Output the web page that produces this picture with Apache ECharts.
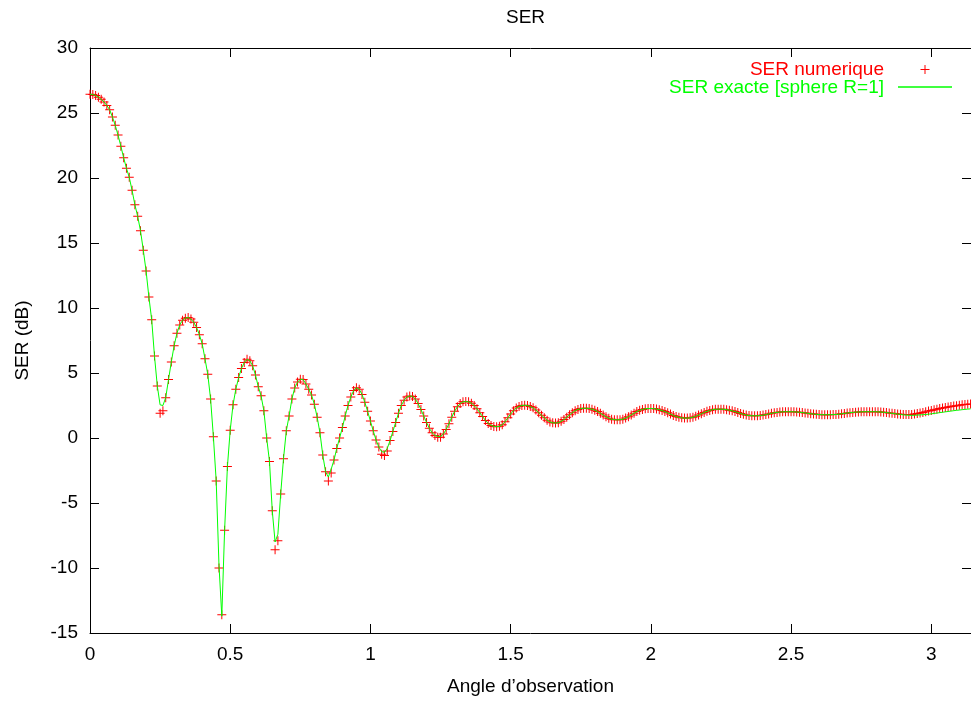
<!DOCTYPE html>
<html><head><meta charset="utf-8">
<script src="https://cdn.jsdelivr.net/npm/echarts@6/dist/echarts.min.js"></script>
<style>html,body{margin:0;padding:0;background:#fff}#c{width:971px;height:701px}</style>
</head><body><div id="c"></div>
<script>
// Angle sampling step (radians) of both series
const angleStep = 0.01;

// SER exacte [sphere R=1] (dB), x = 0.00 .. 3.14
const serExacte = [
26.45,26.42,26.35,26.22,26.05,25.85,25.58,25.25,24.70,24.05,
23.30,22.45,21.55,20.75,20.05,19.05,17.95,17.05,15.95,14.45,
12.85,10.85,9.10,6.30,4.00,2.55,2.50,3.10,4.50,5.85,
7.10,8.05,8.70,9.05,9.22,9.27,9.15,8.90,8.50,7.95,
7.25,6.10,4.90,3.00,0.10,-3.30,-9.80,-13.70,-7.10,-2.20,
0.60,2.55,3.75,4.65,5.35,5.80,6.05,5.95,5.55,4.85,
3.95,3.25,2.10,0.00,-1.80,-5.60,-8.00,-7.40,-4.30,-1.60,
0.55,1.70,3.00,3.85,4.30,4.52,4.50,4.15,3.75,3.30,
2.60,1.60,0.40,-1.30,-2.60,-3.00,-2.40,-1.70,-0.80,0.00,
0.80,1.70,2.50,3.15,3.65,3.87,3.75,3.35,2.75,2.05,
1.30,0.55,-0.15,-0.70,-1.05,-1.10,-0.80,-0.20,0.50,1.20,
1.90,2.50,2.90,3.15,3.24,3.20,3.00,2.65,2.20,1.70,
1.20,0.75,0.40,0.20,0.12,0.12,0.30,0.65,1.10,1.60,
2.05,2.40,2.65,2.78,2.80,2.78,2.68,2.50,2.25,1.95,
1.65,1.35,1.12,0.97,0.89,0.87,0.90,1.02,1.25,1.55,
1.85,2.10,2.30,2.43,2.50,2.52,2.50,2.43,2.32,2.15,
1.95,1.75,1.55,1.37,1.24,1.17,1.15,1.18,1.28,1.42,
1.60,1.78,1.95,2.10,2.20,2.26,2.29,2.29,2.27,2.22,
2.14,2.03,1.90,1.77,1.63,1.52,1.45,1.41,1.40,1.41,
1.45,1.53,1.64,1.77,1.90,2.03,2.13,2.20,2.25,2.27,
2.27,2.26,2.23,2.18,2.11,2.03,1.94,1.84,1.74,1.66,
1.59,1.55,1.53,1.53,1.55,1.60,1.67,1.76,1.86,1.96,
2.05,2.12,2.18,2.21,2.22,2.22,2.21,2.18,2.14,2.09,
2.03,1.96,1.89,1.82,1.77,1.73,1.71,1.71,1.71,1.73,
1.76,1.80,1.85,1.90,1.94,1.97,2.00,2.01,2.02,2.02,
2.02,2.01,2.00,1.98,1.96,1.93,1.90,1.87,1.84,1.82,
1.80,1.79,1.79,1.79,1.79,1.80,1.81,1.83,1.86,1.89,
1.92,1.95,1.97,1.99,2.00,2.01,2.02,2.02,2.02,2.02,
2.02,2.01,2.00,1.98,1.96,1.93,1.90,1.87,1.84,1.81,
1.78,1.76,1.75,1.74,1.75,1.76,1.78,1.79,1.81,1.83,
1.86,1.89,1.92,1.95,1.98,2.01,2.04,2.07,2.10,2.13,
2.15,2.18,2.20,2.22,2.24
];

// SER numerique (dB), x = 0.00 .. 3.14
const serNumerique = [
26.45,26.42,26.35,26.22,26.05,25.85,25.58,25.25,24.70,24.05,
23.30,22.45,21.55,20.75,20.05,19.05,17.95,17.05,15.95,14.45,
12.85,10.85,9.10,6.30,4.00,1.90,2.10,3.10,4.50,5.85,
7.10,8.05,8.70,9.05,9.22,9.27,9.15,8.90,8.50,7.95,
7.25,6.10,4.90,3.00,0.10,-3.30,-10.00,-13.60,-7.10,-2.20,
0.60,2.55,3.75,4.65,5.35,5.80,6.05,5.95,5.55,4.85,
3.95,3.25,2.10,0.00,-1.80,-5.60,-8.60,-7.90,-4.30,-1.60,
0.55,1.70,3.00,3.85,4.30,4.52,4.50,4.15,3.75,3.30,
2.60,1.60,0.40,-1.30,-2.60,-3.30,-2.70,-1.70,-0.80,0.00,
0.80,1.70,2.50,3.15,3.65,3.87,3.75,3.35,2.75,2.05,
1.30,0.55,-0.15,-0.70,-1.25,-1.35,-1.00,-0.20,0.50,1.20,
1.90,2.50,2.90,3.15,3.24,3.20,3.00,2.65,2.20,1.70,
1.20,0.75,0.40,0.20,0.05,0.05,0.30,0.65,1.10,1.60,
2.05,2.40,2.65,2.78,2.80,2.78,2.68,2.50,2.25,1.95,
1.65,1.35,1.12,0.97,0.89,0.87,0.90,1.02,1.25,1.55,
1.85,2.10,2.30,2.43,2.50,2.52,2.50,2.43,2.32,2.15,
1.95,1.75,1.55,1.37,1.24,1.17,1.15,1.18,1.28,1.42,
1.60,1.78,1.95,2.10,2.20,2.26,2.29,2.29,2.27,2.22,
2.14,2.03,1.90,1.77,1.63,1.52,1.45,1.41,1.40,1.41,
1.45,1.53,1.64,1.77,1.90,2.03,2.13,2.20,2.25,2.27,
2.27,2.26,2.23,2.18,2.11,2.03,1.94,1.84,1.74,1.66,
1.59,1.55,1.53,1.53,1.55,1.60,1.67,1.76,1.86,1.96,
2.05,2.12,2.18,2.21,2.22,2.22,2.21,2.18,2.14,2.09,
2.03,1.96,1.89,1.82,1.77,1.73,1.71,1.71,1.71,1.73,
1.76,1.80,1.85,1.90,1.94,1.97,2.00,2.01,2.02,2.02,
2.02,2.01,2.00,1.98,1.96,1.93,1.90,1.87,1.84,1.82,
1.80,1.79,1.79,1.79,1.79,1.80,1.81,1.83,1.86,1.89,
1.92,1.95,1.97,1.99,2.00,2.01,2.02,2.02,2.02,2.02,
2.02,2.01,2.00,1.98,1.96,1.93,1.90,1.88,1.85,1.83,
1.81,1.80,1.80,1.81,1.84,1.88,1.92,1.97,2.02,2.07,
2.12,2.17,2.22,2.27,2.31,2.35,2.39,2.43,2.46,2.49,
2.52,2.55,2.57,2.59,2.61
];

// Axis ranges and tick steps
const xRange = [0, Math.PI];
const xTickStep = 0.5;
const yRange = [-15, 30];
const yTickStep = 5;

const seriesNames = ['SER numerique', 'SER exacte [sphere R=1]'];
const plusPath = 'path://M4,0H5V9H4Z M0,4H9V5H0Z';
const FONT = 'Liberation Sans, Arial, Helvetica, sans-serif';
const FS = 19;
const RED = '#ff0000';
const GREEN = '#00ff00';

const toPairs = arr => arr.map((v, i) => [+(i * angleStep).toFixed(2), v]);

const axisCommon = {
  type: 'value',
  splitLine: { show: false },
  axisLine: { show: true, onZero: false, lineStyle: { color: '#000', width: 1 } },
  axisTick: { show: true, inside: true, length: 9, lineStyle: { color: '#000', width: 1 } }
};

const chart = echarts.init(document.getElementById('c'), null, { renderer: 'canvas' });
chart.setOption({
  animation: false,
  backgroundColor: '#fff',
  title: {
    text: 'SER', left: 506, top: 8, padding: 0,
    textStyle: { fontFamily: FONT, fontSize: FS, fontWeight: 'normal', color: '#000' }
  },
  legend: [
    {
      data: [{ name: seriesNames[0], icon: plusPath, itemStyle: { color: RED } }],
      right: 41.5, top: 60, padding: 0, align: 'right', orient: 'vertical',
      itemWidth: 54, itemHeight: 9, symbolKeepAspect: true, selectedMode: false,
      textStyle: { fontFamily: FONT, fontSize: FS, color: RED, padding: [0, 9, 0, 0] }
    },
    {
      data: [{ name: seriesNames[1], icon: 'rect' }],
      right: 19, top: 78, padding: 0, align: 'right', orient: 'vertical',
      itemWidth: 54, itemHeight: 9, selectedMode: false,
      itemStyle: { opacity: 0 },
      lineStyle: { opacity: 0 },
      textStyle: { fontFamily: FONT, fontSize: FS, color: GREEN, padding: [0, 9, 0, 0] }
    }
  ],
  // sample line of the green legend entry
  graphic: [{
    type: 'line', silent: true, z: 100,
    shape: { x1: 898, y1: 87, x2: 952, y2: 87 },
    style: { stroke: GREEN, lineWidth: 1.5 }
  }],
  grid: { left: 90, right: -7, top: 48, bottom: 64, containLabel: false },
  xAxis: [
    Object.assign({}, axisCommon, {
      position: 'bottom', min: xRange[0], max: xRange[1], interval: xTickStep,
      name: 'Angle d\u2019observation', nameLocation: 'middle', nameGap: 44,
      nameTextStyle: { fontFamily: FONT, fontSize: FS, color: '#000' },
      axisLabel: { show: true, margin: 12, showMaxLabel: false, fontFamily: FONT, fontSize: FS, color: '#000' }
    }),
    Object.assign({}, axisCommon, {
      position: 'top', min: xRange[0], max: xRange[1], interval: xTickStep,
      axisLabel: { show: false }
    })
  ],
  yAxis: [
    Object.assign({}, axisCommon, {
      position: 'left', min: yRange[0], max: yRange[1], interval: yTickStep,
      name: 'SER (dB)', nameLocation: 'middle', nameGap: 58, nameRotate: 90,
      nameTextStyle: { fontFamily: FONT, fontSize: FS, color: '#000' },
      axisLabel: { show: true, margin: 12, fontFamily: FONT, fontSize: FS, color: '#000' }
    }),
    Object.assign({}, axisCommon, {
      position: 'right', min: yRange[0], max: yRange[1], interval: yTickStep,
      axisLabel: { show: false }
    })
  ],
  series: [
    {
      name: seriesNames[0], type: 'scatter', xAxisIndex: 0, yAxisIndex: 0,
      data: toPairs(serNumerique), symbol: plusPath, symbolSize: 9,
      itemStyle: { color: RED, opacity: 1 }, clip: false, z: 2
    },
    {
      name: seriesNames[1], type: 'line', xAxisIndex: 0, yAxisIndex: 0,
      data: toPairs(serExacte), symbol: 'none', showSymbol: false, smooth: false,
      lineStyle: { color: GREEN, width: 1 }, itemStyle: { color: GREEN }, z: 3
    }
  ]
});
</script></body></html>
